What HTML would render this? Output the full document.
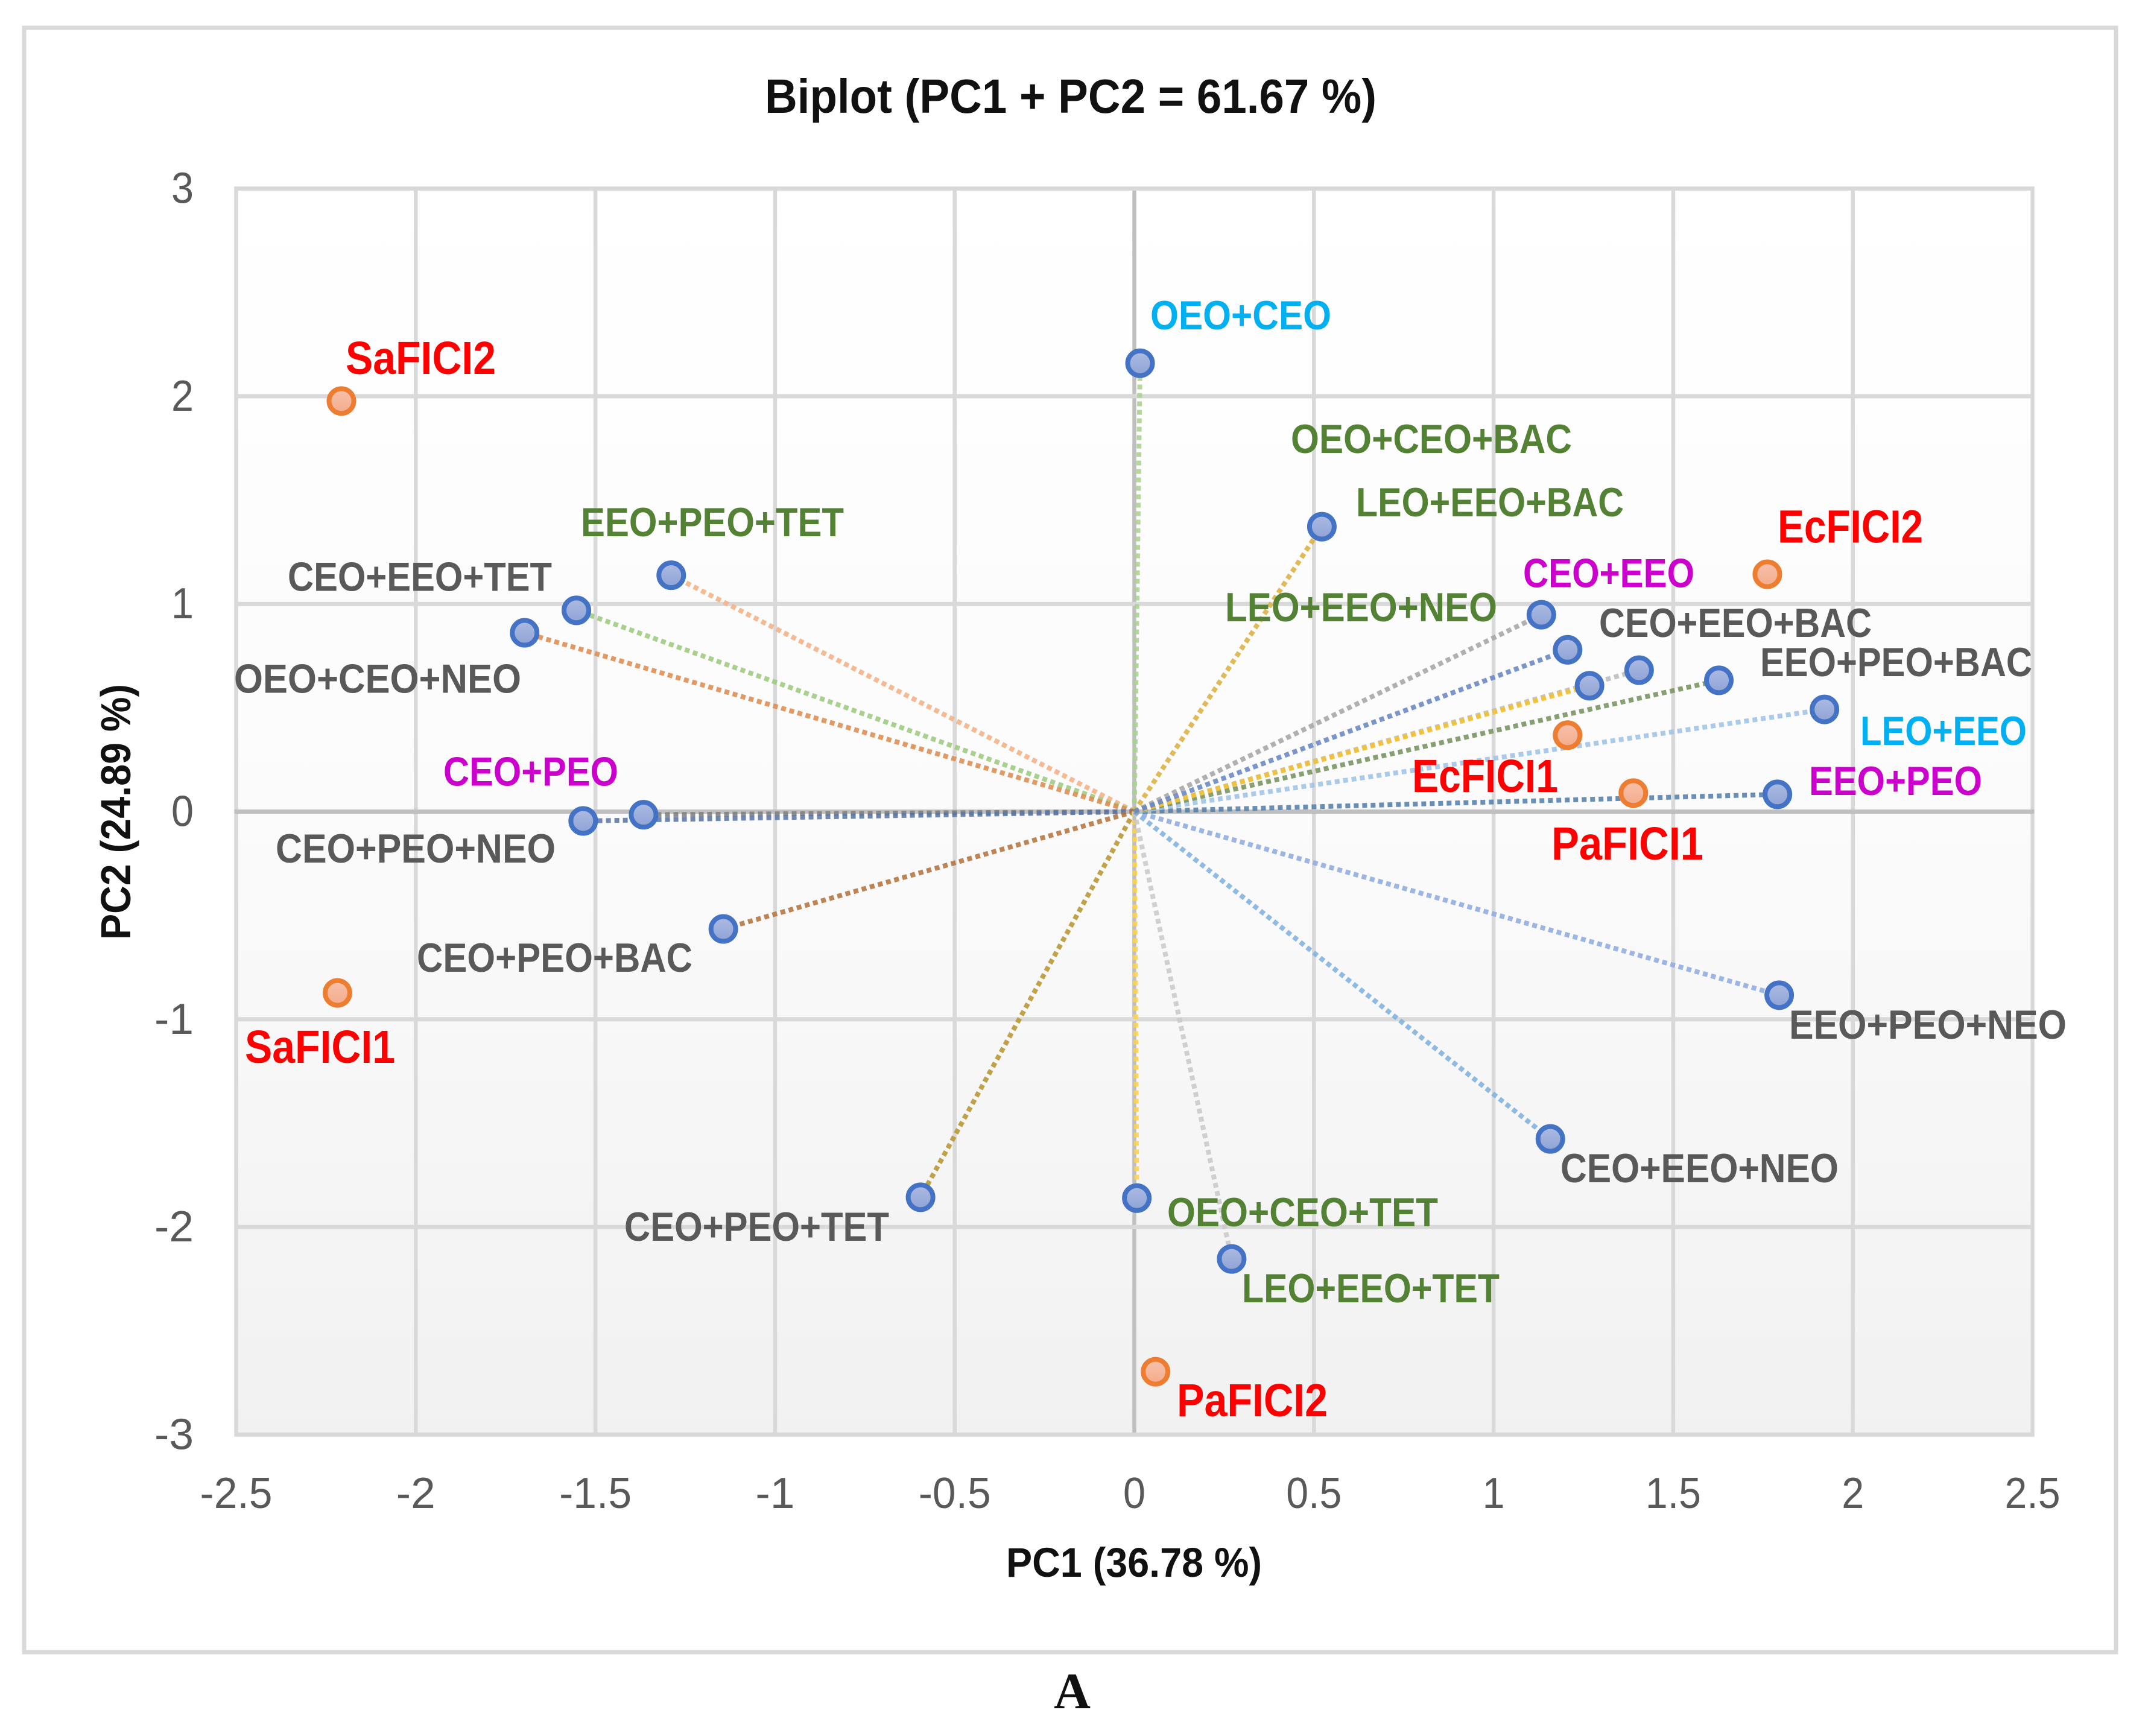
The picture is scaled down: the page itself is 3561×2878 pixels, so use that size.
<!DOCTYPE html>
<html lang="en">
<head>
<meta charset="utf-8">
<title>Biplot (PC1 + PC2 = 61.67 %)</title>
<style>
html,body{margin:0;padding:0;background:#fff;width:3561px;height:2878px;overflow:hidden}
svg{display:block}
text{font-family:"Liberation Sans",sans-serif}
.lb{font-weight:700;font-size:68px}
.red{font-weight:700;font-size:77px;fill:#ff0000}
.grey{fill:#595959}.green{fill:#548235}.mag{fill:#cc00cc}.cyan{fill:#00b0f0}
.ax{font-weight:700;fill:#111}
</style>
</head>
<body>
<svg xmlns="http://www.w3.org/2000/svg" width="3561" height="2878" viewBox="0 0 3561 2878">
  <defs>
    <linearGradient id="plotBg" x1="0" y1="0" x2="0" y2="1">
      <stop offset="0" stop-color="#ffffff"/>
      <stop offset="0.5" stop-color="#fbfbfb"/>
      <stop offset="1" stop-color="#f1f1f1"/>
    </linearGradient>
    <linearGradient id="blueFill" x1="0" y1="0" x2="0" y2="1">
      <stop offset="0" stop-color="#adbbe2"/>
      <stop offset="1" stop-color="#8ea3d6"/>
    </linearGradient>
    <linearGradient id="orangeFill" x1="0" y1="0" x2="0" y2="1">
      <stop offset="0" stop-color="#f7c2ab"/>
      <stop offset="1" stop-color="#f4ab8c"/>
    </linearGradient>
  </defs>

  <rect x="40" y="46" width="3468" height="2693" fill="#ffffff" stroke="#d9d9d9" stroke-width="7"/>
  <g id="plot-layer"></g>

  <text class="ax" x="1268" y="187" font-size="80" textLength="1014" lengthAdjust="spacingAndGlyphs">Biplot (PC1 + PC2 = 61.67 %)</text>
  <text class="ax" x="1668" y="2614" font-size="69" textLength="424" lengthAdjust="spacingAndGlyphs">PC1 (36.78 %)</text>
  <text class="ax" transform="translate(216,1558) rotate(-90)" font-size="70" textLength="424" lengthAdjust="spacingAndGlyphs">PC2 (24.89 %)</text>
  <text x="1747" y="2832" font-size="85" font-weight="700" fill="#111" style="font-family:'Liberation Serif',serif" textLength="61" lengthAdjust="spacingAndGlyphs">A</text>

  <g>
    <text class="lb cyan" x="1907" y="546" textLength="300" lengthAdjust="spacingAndGlyphs">OEO+CEO</text>
    <text class="lb green" x="2140" y="751" textLength="466" lengthAdjust="spacingAndGlyphs">OEO+CEO+BAC</text>
    <text class="lb green" x="2248" y="856" textLength="444" lengthAdjust="spacingAndGlyphs">LEO+EEO+BAC</text>
    <text class="lb green" x="963" y="889" textLength="436" lengthAdjust="spacingAndGlyphs">EEO+PEO+TET</text>
    <text class="lb grey" x="477" y="979.6" textLength="438" lengthAdjust="spacingAndGlyphs">CEO+EEO+TET</text>
    <text class="lb grey" x="388" y="1148.5" textLength="476" lengthAdjust="spacingAndGlyphs">OEO+CEO+NEO</text>
    <text class="lb mag" x="735" y="1302.5" textLength="290" lengthAdjust="spacingAndGlyphs">CEO+PEO</text>
    <text class="lb grey" x="457" y="1430" textLength="464" lengthAdjust="spacingAndGlyphs">CEO+PEO+NEO</text>
    <text class="lb grey" x="691" y="1611" textLength="457" lengthAdjust="spacingAndGlyphs">CEO+PEO+BAC</text>
    <text class="lb grey" x="1035" y="2057" textLength="439" lengthAdjust="spacingAndGlyphs">CEO+PEO+TET</text>
    <text class="lb green" x="2031" y="1030" textLength="451" lengthAdjust="spacingAndGlyphs">LEO+EEO+NEO</text>
    <text class="lb mag" x="2525" y="973.5" textLength="284" lengthAdjust="spacingAndGlyphs">CEO+EEO</text>
    <text class="lb grey" x="2651" y="1056" textLength="452" lengthAdjust="spacingAndGlyphs">CEO+EEO+BAC</text>
    <text class="lb grey" x="2918" y="1121" textLength="451" lengthAdjust="spacingAndGlyphs">EEO+PEO+BAC</text>
    <text class="lb cyan" x="3084" y="1235" textLength="276" lengthAdjust="spacingAndGlyphs">LEO+EEO</text>
    <text class="lb mag" x="2999" y="1318" textLength="287" lengthAdjust="spacingAndGlyphs">EEO+PEO</text>
    <text class="lb grey" x="2966" y="1722" textLength="460" lengthAdjust="spacingAndGlyphs">EEO+PEO+NEO</text>
    <text class="lb grey" x="2587" y="1960" textLength="461" lengthAdjust="spacingAndGlyphs">CEO+EEO+NEO</text>
    <text class="lb green" x="1935" y="2033" textLength="449" lengthAdjust="spacingAndGlyphs">OEO+CEO+TET</text>
    <text class="lb green" x="2059" y="2159" textLength="427" lengthAdjust="spacingAndGlyphs">LEO+EEO+TET</text>
    <text class="red" x="573" y="620" textLength="249" lengthAdjust="spacingAndGlyphs">SaFICI2</text>
    <text class="red" x="406" y="1762" textLength="249" lengthAdjust="spacingAndGlyphs">SaFICI1</text>
    <text class="red" x="2947" y="899.5" textLength="241" lengthAdjust="spacingAndGlyphs">EcFICI2</text>
    <text class="red" x="2341" y="1313" textLength="242" lengthAdjust="spacingAndGlyphs">EcFICI1</text>
    <text class="red" x="2572" y="1425" textLength="252" lengthAdjust="spacingAndGlyphs">PaFICI1</text>
    <text class="red" x="1951" y="2348" textLength="250" lengthAdjust="spacingAndGlyphs">PaFICI2</text>
  </g>
</svg>

<script>
// ---- chart data ----
const combinationNames = ['oeo-ceo','leo-eeo-bac','eeo-peo-tet','ceo-eeo-tet','oeo-ceo-neo','ceo-peo','ceo-peo-neo','ceo-peo-bac','ceo-peo-tet','oeo-ceo-tet','leo-eeo-tet','ceo-eeo-neo','eeo-peo-neo','eeo-peo','leo-eeo','eeo-peo-bac','ceo-eeo-bac','oeo-ceo-bac','leo-eeo-neo','ceo-eeo'];
const combinationPC1 = [0.016,0.522,-1.289,-1.553,-1.697,-1.366,-1.534,-1.144,-0.595,0.007,0.271,1.158,1.795,1.790,1.921,1.627,1.405,1.267,1.133,1.206];
const combinationPC2 = [2.159,1.372,1.138,0.969,0.861,-0.015,-0.045,-0.565,-1.857,-1.861,-2.154,-1.576,-0.884,0.083,0.492,0.632,0.681,0.606,0.948,0.779];
const ficiNames = ['safici2','safici1','ecfici2','ecfici1','pafici1','pafici2'];
const ficiPC1 = [-2.207,-2.218,1.762,1.206,1.389,0.059];
const ficiPC2 = [1.977,-0.873,1.143,0.368,0.089,-2.697];
const xTickValues = [-2.5,-2,-1.5,-1,-0.5,0,0.5,1,1.5,2,2.5];
const yTickValues = [-3,-2,-1,0,1,2,3];
const xTickLabels = ['-2.5','-2','-1.5','-1','-0.5','0','0.5','1','1.5','2','2.5'];
const yTickLabels = ['-3','-2','-1','0','1','2','3'];

// ---- styling (palette per combination, same order as above) ----
const vectorPalette = ['#a9d18e','#dcb040','#f4b183','#9ccb7e','#de8c50','#7f7f7f','#5b78a8','#b4733f','#b8952f','#ffd34d','#c9c9c9','#7fb0df','#8fabdf','#5580ab','#9dc3e6','#76935f','#bdbdbd','#f5c02e','#a5a5a5','#6686c2'];

// ---- axis functions ----
const plotLeft = 391.5, plotRight = 3369.5, plotTop = 312.6, plotBottom = 2378.4;
function xScale(v){ return plotLeft + (v - (-2.5)) / 5 * (plotRight - plotLeft); }
function yScale(v){ return plotBottom - (v - (-3)) / 6 * (plotBottom - plotTop); }
function tickWidth(s){
  let w = 0;
  for (const c of s) w += c === '.' ? 18 : c === '-' ? 28 : 37;
  return w;
}

const NS = 'http://www.w3.org/2000/svg';
const layer = document.getElementById('plot-layer');
function make(tag, attrs){
  const el = document.createElementNS(NS, tag);
  for (const k in attrs) el.setAttribute(k, attrs[k]);
  layer.appendChild(el);
  return el;
}

// plot background
const bg = make('rect', {x:plotLeft, y:plotTop, width:plotRight-plotLeft, height:plotBottom-plotTop, fill:'url(#plotBg)'});



// gridlines
xTickValues.forEach((v) => {
  const g = make('line', {x1:xScale(v), x2:xScale(v), y1:plotTop-3, y2:plotBottom+3, stroke: v === 0 ? '#bfbfbf' : '#d9d9d9', 'stroke-width':6.5});
  
  
});
yTickValues.forEach((v) => {
  const g = make('line', {x1:plotLeft-3, x2:plotRight+3, y1:yScale(v), y2:yScale(v), stroke: v === 0 ? '#bfbfbf' : '#d9d9d9', 'stroke-width':7});
  
  
});

// tick labels
xTickLabels.forEach((s, i) => {
  const t = make('text', {x:xScale(xTickValues[i]), y:2500, 'text-anchor':'middle', 'font-size':72, fill:'#595959', textLength:tickWidth(s), lengthAdjust:'spacingAndGlyphs'});
  t.textContent = s;
  
  
});
yTickLabels.forEach((s, i) => {
  const t = make('text', {x:321, y:yScale(yTickValues[i])+24, 'text-anchor':'end', 'font-size':72, fill:'#595959', textLength:tickWidth(s), lengthAdjust:'spacingAndGlyphs'});
  t.textContent = s;
  
  
});

// loading vectors from the origin
combinationPC1.forEach((v, i) => {
  const l = make('line', {x1:xScale(0), y1:yScale(0), x2:xScale(v), y2:yScale(combinationPC2[i]), stroke:vectorPalette[i], 'stroke-width':8, 'stroke-dasharray':'8 6', 'stroke-opacity':0.88});
  
  
});

// combination points
combinationPC1.forEach((v, i) => {
  const c = make('circle', {cx:xScale(v), cy:yScale(combinationPC2[i]), r:20.5, fill:'url(#blueFill)', stroke:'#4472c4', 'stroke-width':8});
  
  
});

// FICI points
ficiPC1.forEach((v, i) => {
  const c = make('circle', {cx:xScale(v), cy:yScale(ficiPC2[i]), r:20.5, fill:'url(#orangeFill)', stroke:'#ed7d31', 'stroke-width':8});
  
  
});
</script>
</body>
</html>
